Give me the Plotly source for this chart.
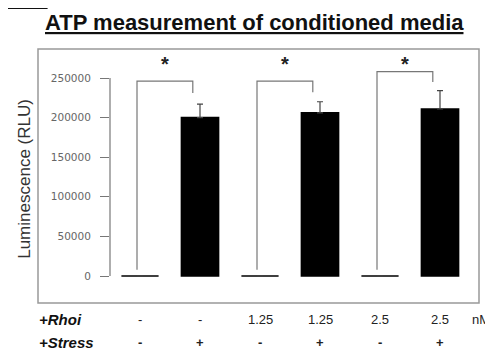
import plotly.graph_objects as go

# ---- data ----
groups = [0, 1, 2, 3, 4, 5]
means = [0, 200000, 0, 206000, 0, 211000]
errors = [0, 17000, 0, 14000, 0, 23000]
rhoi_labels = ["-", "-", "1.25", "1.25", "2.5", "2.5"]
stress_labels = ["-", "+", "-", "+", "-", "+"]
y_ticks = [0, 50000, 100000, 150000, 200000, 250000]
# significance comparisons: (left group, right group, bracket top, right leg bottom, left leg bottom)
comparisons = [(0, 1, 246000, 231000, 8000),
               (2, 3, 246000, 232000, 8000),
               (4, 5, 258000, 245000, 8000)]
star_level = 251000

FONT = "Liberation Sans, Arial, sans-serif"

fig = go.Figure()
fig.add_trace(go.Bar(
    x=groups, y=means, width=0.62,
    marker=dict(color="black", line=dict(color="black", width=1.5)),
    error_y=dict(type="data", array=errors, symmetric=False, arrayminus=[0]*6,
                 color="#444", thickness=1.2, width=3, visible=True),
    showlegend=False,
))

shapes = []
annotations = []
# y-axis line spanning the tick range only
shapes.append(dict(type="line", xref="paper", yref="y", x0=0, x1=0,
                   y0=y_ticks[0], y1=y_ticks[-1], line=dict(color="#777", width=1.2)))
# outer frame
shapes.append(dict(type="rect", xref="paper", yref="paper", x0=-0.2, x1=1.025,
                   y0=-0.012, y1=1.004, line=dict(color="#999", width=1.5)))
# brackets
for l, r, top, rbot, lbot in comparisons:
    xl = l - 0.05
    xr = r - 0.12
    shapes.append(dict(type="path",
                       path=f"M {xl},{lbot} L {xl},{top} L {xr},{top} L {xr},{rbot}",
                       xref="x", yref="y", line=dict(color="#777", width=1.2)))
    annotations.append(dict(x=(xl + xr) / 2, y=star_level, xref="x", yref="y",
                            text="<b>*</b>", showarrow=False, yanchor="bottom",
                            font=dict(family=FONT, size=20, color="#222")))

# bottom label rows
for g, rl, sl in zip(groups, rhoi_labels, stress_labels):
    annotations.append(dict(x=g, y=-0.076, xref="x", yref="paper", text=rl,
                            showarrow=False, yanchor="middle",
                            font=dict(family=FONT, size=13, color="#222")))
    annotations.append(dict(x=g, y=-0.168, xref="x", yref="paper", text="<b>" + sl + "</b>",
                            showarrow=False, yanchor="middle",
                            font=dict(family=FONT, size=13, color="#222")))
annotations.append(dict(x=-0.203, y=-0.076, xref="paper", yref="paper", xanchor="left",
                        yanchor="middle", text="<b><i>+Rhoi</i></b>", showarrow=False,
                        font=dict(family=FONT, size=15, color="#111")))
annotations.append(dict(x=-0.203, y=-0.168, xref="paper", yref="paper", xanchor="left",
                        yanchor="middle", text="<b><i>+Stress</i></b>", showarrow=False,
                        font=dict(family=FONT, size=15, color="#111")))
annotations.append(dict(x=1.0, y=-0.076, xref="paper", yref="paper", xanchor="left",
                        yanchor="middle", text="nM", showarrow=False,
                        font=dict(family=FONT, size=13, color="#222")))
# y-axis title
annotations.append(dict(x=-0.236, y=0.485, xref="paper", yref="paper", textangle=-90,
                        xanchor="center", yanchor="middle",
                        text="Luminescence (RLU)", showarrow=False,
                        font=dict(family=FONT, size=17, color="#333")))
# title
annotations.append(dict(x=0.4, y=1.108, xref="paper", yref="paper",
                        xanchor="center", yanchor="middle",
                        text="<b><u>ATP measurement of conditioned media</u></b>", showarrow=False,
                        font=dict(family=FONT, size=22, color="#111")))
# cut-off panel label at top-left
annotations.append(dict(x=-0.306, y=1.152, xref="paper", yref="paper", xanchor="left",
                        yanchor="bottom",
                        text="<b><u>C.1B</u></b>", showarrow=False,
                        font=dict(family=FONT, size=20, color="#111")))

fig.update_layout(
    width=485, height=344,
    margin=dict(l=102, r=23, t=42, b=52),
    paper_bgcolor="white", plot_bgcolor="white",
    shapes=shapes, annotations=annotations,
    xaxis=dict(range=[-0.5, 5.5], showticklabels=False, showgrid=False, zeroline=False,
               showline=False, ticks=""),
    yaxis=dict(range=[-30300, 285350], tickvals=y_ticks, ticktext=[str(v) for v in y_ticks],
               showgrid=False, zeroline=False, showline=False, ticks="outside", ticklen=9,
               tickcolor="#777", ticklabelstandoff=7,
               tickfont=dict(family="DejaVu Sans, sans-serif", size=10.5, color="#666")),
    bargap=0.3,
)

fig.write_html("out.html")
